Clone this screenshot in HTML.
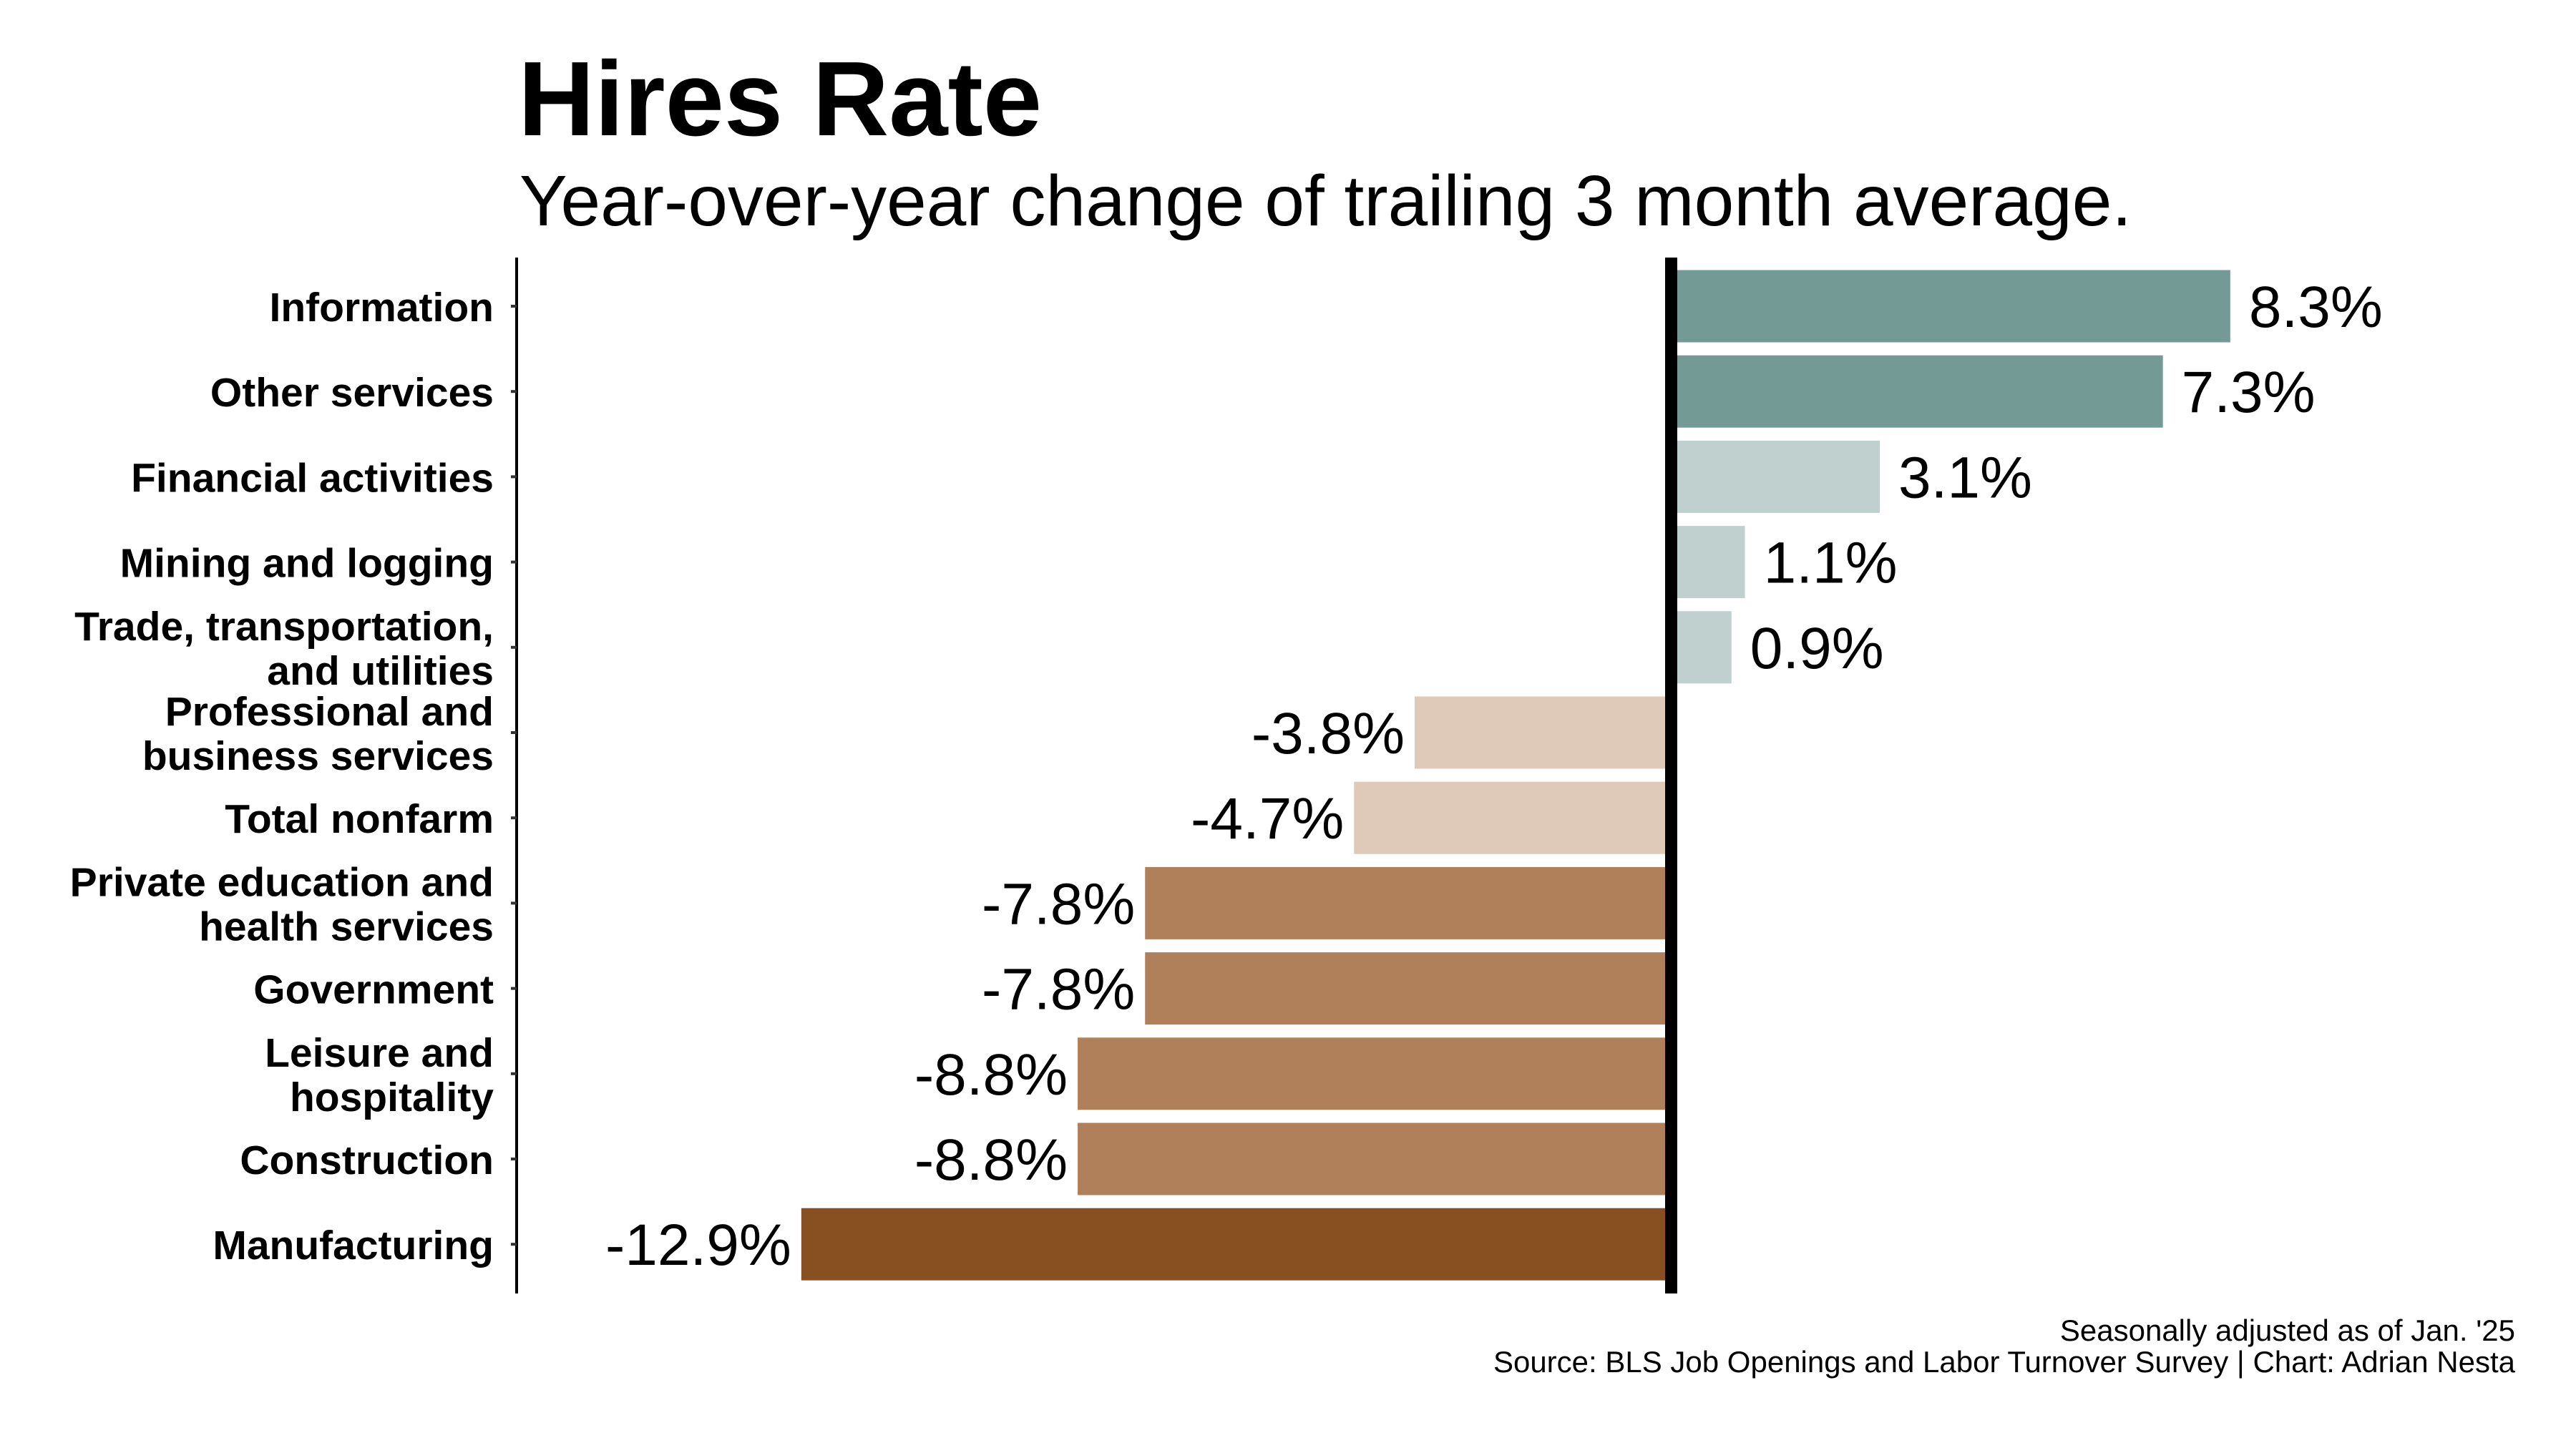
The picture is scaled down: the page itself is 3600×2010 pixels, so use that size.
<!DOCTYPE html>
<html><head><meta charset="utf-8">
<style>
html,body{margin:0;padding:0;background:#fff;}
svg{display:block;font-family:"Liberation Sans",Arial,sans-serif;}
</style></head>
<body>
<svg id="chart" width="3600" height="2010" viewBox="0 0 3600 2010" xmlns="http://www.w3.org/2000/svg">
<rect width="3600" height="2010" fill="#fff"/>
<text x="724" y="189" font-size="148" font-weight="bold" fill="#000">Hires Rate</text>
<text x="726" y="315" font-size="100" fill="#000">Year-over-year change of trailing 3 month average.</text>
<g id="plot"></g>
<text x="3515" y="1874" font-size="42" text-anchor="end" fill="#000">Seasonally adjusted as of Jan. '25</text>
<text x="3515" y="1918" font-size="42" text-anchor="end" fill="#000">Source: BLS Job Openings and Labor Turnover Survey | Chart: Adrian Nesta</text>
</svg>
<script>
const categories = [
  ["Information"],
  ["Other services"],
  ["Financial activities"],
  ["Mining and logging"],
  ["Trade, transportation,", "and utilities"],
  ["Professional and", "business services"],
  ["Total nonfarm"],
  ["Private education and", "health services"],
  ["Government"],
  ["Leisure and", "hospitality"],
  ["Construction"],
  ["Manufacturing"]
];
const values = [8.3, 7.3, 3.1, 1.1, 0.9, -3.8, -4.7, -7.8, -7.8, -8.8, -8.8, -12.9];
const valueLabels = ["8.3%", "7.3%", "3.1%", "1.1%", "0.9%", "-3.8%", "-4.7%", "-7.8%", "-7.8%", "-8.8%", "-8.8%", "-12.9%"];

const NS = "http://www.w3.org/2000/svg";
const plot = document.getElementById("plot");
const x0 = 2335, pxPerPct = 94.2;
function xScale(v){ return x0 + v * pxPerPct; }
function yCenter(i){ return 428 + i * 119.2; }
const barH = 101;
function colorFor(v){
  if (v >= 5) return "#739A95";
  if (v >= 0) return "#C0D0CE";
  if (v > -6) return "#DFC9B8";
  if (v > -10) return "#B0805B";
  return "#885021";
}
function mk(tag, attrs){
  const e = document.createElementNS(NS, tag);
  for (const k in attrs) e.setAttribute(k, attrs[k]);
  plot.appendChild(e);
  return e;
}
const ax = mk("line", {x1:722, x2:722, y1:360, y2:1808, stroke:"#000", "stroke-width":4});



values.forEach((v, i) => {
  const yc = yCenter(i);
  const xa = xScale(Math.min(v, 0)), xb = xScale(Math.max(v, 0));
  const bar = mk("rect", {x:xa, y:yc - barH/2, width:xb - xa, height:barH, fill:colorFor(v)});
  
  

  const lbl = mk("text", {x: v >= 0 ? xb + 26 : xa - 14, y: yc + 29, "font-size": 82, fill:"#000", "text-anchor": v >= 0 ? "start" : "end"});
  lbl.textContent = valueLabels[i];
  
  

  const tick = mk("line", {x1:714, x2:722, y1:yc, y2:yc, stroke:"#333", "stroke-width":4});
  
  

  const lines = categories[i];
  lines.forEach((t, j) => {
    const by = lines.length === 1 ? yc + 21 : yc - 10 + j * 62;
    const tl = mk("text", {x:690, y:by, "font-size":57, "font-weight":"bold", "text-anchor":"end", fill:"#000"});
    tl.textContent = t;
    
    
  });
});
const zl = mk("rect", {x:x0 - 8, y:360, width:17, height:1448, fill:"#000"});


</script>
</body></html>
